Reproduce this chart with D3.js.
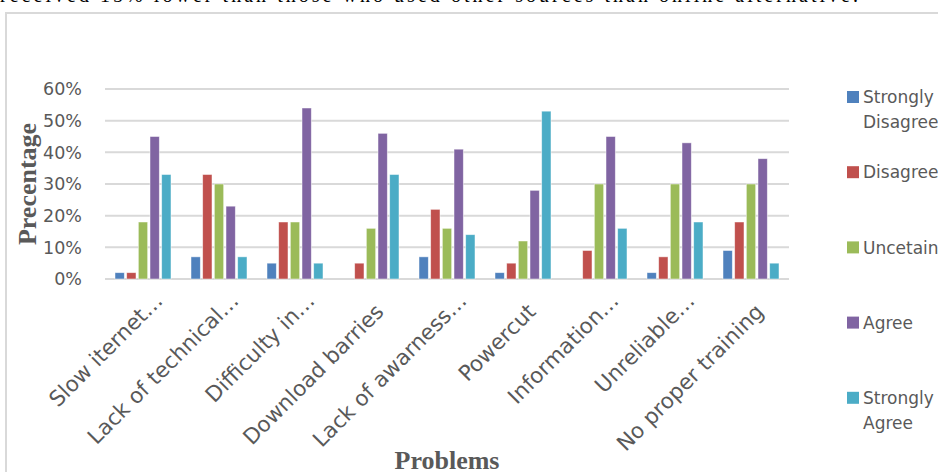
<!DOCTYPE html>
<html>
<head>
<meta charset="utf-8">
<script src="https://cdn.jsdelivr.net/npm/d3@7"></script>
<style>
  body { margin: 0; background: #fff; }
  svg { display: block; }
</style>
</head>
<body>
<svg id="chart" width="938" height="472"></svg>
<script>
// data (percent)
const problems = [
  "Slow iternet…",
  "Lack of technical…",
  "Difficulty in…",
  "Download barries",
  "Lack of awarness…",
  "Powercut",
  "Information…",
  "Unreliable…",
  "No proper training"
];
const seriesNames = ["Strongly Disagree", "Disagree", "Uncetain", "Agree", "Strongly Agree"];
const stronglyDisagree = [2, 7, 5, 0, 7, 2, 0, 2, 9];
const disagree = [2, 33, 18, 5, 22, 5, 9, 7, 18];
const uncertain = [18, 30, 18, 16, 16, 12, 30, 30, 30];
const agree = [45, 23, 54, 46, 41, 28, 45, 43, 38];
const stronglyAgree = [33, 7, 5, 33, 14, 53, 16, 18, 5];
const yTicks = [0, 10, 20, 30, 40, 50, 60];
const colors = ["#4F81BD", "#C0504D", "#9BBB59", "#8064A2", "#4BACC6"];

const allSeries = [stronglyDisagree, disagree, uncertain, agree, stronglyAgree];

const svg = d3.select("#chart");
const grey = "#595959";
const sans = "'DejaVu Sans', sans-serif";

// cut-off line of page text above the chart
svg.append("text")
  .attr("x", 0)
  .attr("y", 2)
  .attr("textLength", 858)
  .attr("lengthAdjust", "spacing")
  .style("font-family", "'Liberation Serif', serif")
  .style("font-size", "20px")
  .style("fill", "#000")
  .text("received 15% lower than those who used other sources than online alternative.");

// chart frame
svg.append("rect")
  .attr("x", 6)
  .attr("y", 13)
  .attr("width", 950)
  .attr("height", 480)
  .attr("fill", "none")
  .attr("stroke", "#D9D9D9")
  .attr("stroke-width", 2);

const x0 = d3.scaleBand().domain(problems).range([105, 789]);
const x1 = d3.scaleBand().domain(d3.range(5)).range([10, 66]).paddingInner(0.2);
const y = d3.scaleLinear().domain([0, 60]).range([279, 89]);

// gridlines
svg.append("g")
  .selectAll("line")
  .data(yTicks)
  .enter()
  .append("line")
  .attr("x1", 105)
  .attr("x2", 789)
  .attr("y1", (d) => y(d))
  .attr("y2", (d) => y(d))
  .attr("stroke", "#D9D9D9")
  .attr("stroke-width", 2);

// y tick labels
svg.append("g")
  .selectAll("text")
  .data(yTicks)
  .enter()
  .append("text")
  .attr("x", 82)
  .attr("y", (d) => y(d))
  .attr("dy", "0.36em")
  .attr("text-anchor", "end")
  .style("font-family", sans)
  .style("font-size", "17.5px")
  .style("fill", grey)
  .text((d) => `${d}%`);

// bars
const groups = svg.append("g")
  .selectAll("g")
  .data(problems)
  .enter()
  .append("g")
  .attr("transform", (d) => `translate(${x0(d)},0)`);

groups.selectAll("rect")
  .data((d, i) => allSeries.map((s, k) => ({ k: k, v: s[i] })))
  .enter()
  .append("rect")
  .attr("x", (d) => x1(d.k))
  .attr("width", x1.bandwidth())
  .attr("y", (d) => y(d.v))
  .attr("height", (d) => y(0) - y(d.v))
  .attr("fill", (d) => colors[d.k])
  .attr("stroke", "#fff")
  .attr("stroke-opacity", 0.6)
  .attr("stroke-width", 0.8);

// category labels, truncated ones end a bit higher
svg.append("g")
  .selectAll("text")
  .data(problems)
  .enter()
  .append("text")
  .attr("transform", (d) => {
    const cx = x0(d) + x0.bandwidth() / 2;
    const cut = d.endsWith("…");
    return `translate(${cx + (cut ? 21 : 14)},${cut ? 302 : 313}) rotate(-45)`;
  })
  .attr("text-anchor", "end")
  .style("font-family", sans)
  .style("font-size", "21.5px")
  .style("fill", grey)
  .text((d) => d);

// axis titles
svg.append("text")
  .attr("transform", "translate(36,184) rotate(-90)")
  .attr("text-anchor", "middle")
  .style("font-family", "'Liberation Serif', serif")
  .style("font-weight", "bold")
  .style("font-size", "26px")
  .style("fill", grey)
  .text("Precentage");

svg.append("text")
  .attr("x", 447)
  .attr("y", 469)
  .attr("text-anchor", "middle")
  .style("font-family", "'Liberation Serif', serif")
  .style("font-weight", "bold")
  .style("font-size", "26px")
  .style("fill", grey)
  .text("Problems");

// legend
const legendNames = [["Strongly", "Disagree"], ["Disagree"], ["Uncetain"], ["Agree"], ["Strongly", "Agree"]];
const legend = svg.append("g")
  .selectAll("g")
  .data(seriesNames)
  .enter()
  .append("g")
  .attr("transform", (d, i) => `translate(847,${97 + i * 75.2})`);

legend.append("rect")
  .attr("x", 0)
  .attr("y", -6)
  .attr("width", 12)
  .attr("height", 12)
  .attr("fill", (d, i) => colors[i]);

legend.append("text")
  .attr("x", 16)
  .attr("y", 0)
  .style("font-family", sans)
  .style("font-size", "17px")
  .style("fill", grey)
  .selectAll("tspan")
  .data((d, i) => legendNames[i])
  .enter()
  .append("tspan")
  .attr("x", 16)
  .attr("dy", (d, j) => (j === 0 ? "0.36em" : "25px"))
  .text((d) => d);
</script>
</body>
</html>
